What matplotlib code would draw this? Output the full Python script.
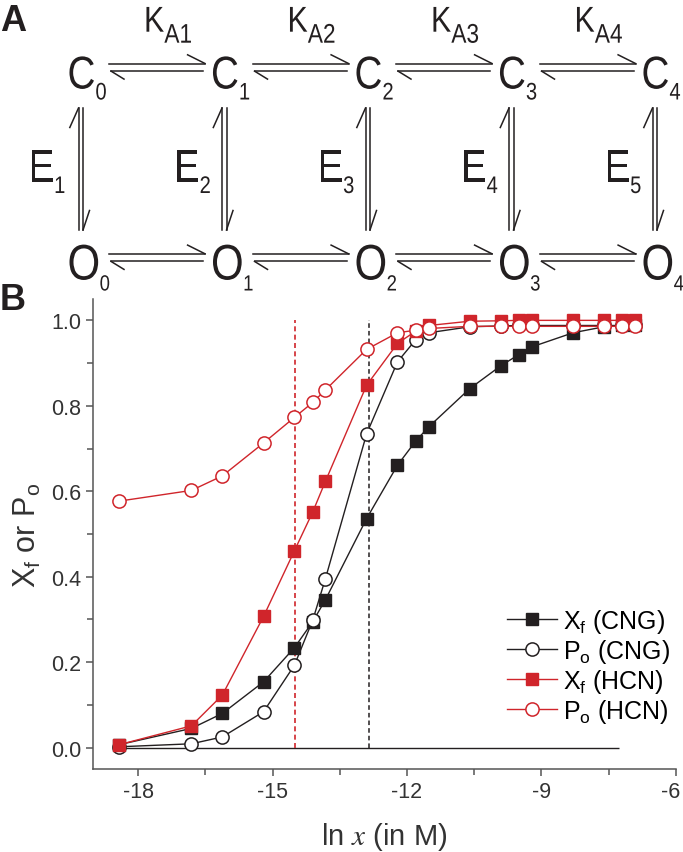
import numpy as np
import matplotlib
matplotlib.use("Agg")
import matplotlib.pyplot as plt
from matplotlib.lines import Line2D
from matplotlib.textpath import TextPath
from matplotlib.patches import PathPatch
from matplotlib.font_manager import FontProperties
from matplotlib.transforms import Affine2D, IdentityTransform, ScaledTranslation

plt.rcParams['font.family'] = ['Liberation Sans', 'DejaVu Sans']
plt.rcParams['mathtext.fontset'] = 'stix'
plt.rcParams['axes.unicode_minus'] = False

# ln of ligand concentration (M)
ln_x = [-18.42, -16.81, -16.12, -15.20, -14.51, -14.10, -13.82, -12.90, -12.21, -11.80,
        -11.51, -10.60, -9.90, -9.50, -9.21, -8.29, -7.60, -7.20, -6.91]

xf_cng = [0.007, 0.045, 0.080, 0.154, 0.234, 0.295, 0.346, 0.536, 0.661, 0.718,
          0.751, 0.840, 0.894, 0.920, 0.938, 0.971, 0.985, 0.988, 0.990]
po_cng = [0.002, 0.009, 0.025, 0.084, 0.193, 0.299, 0.395, 0.734, 0.903, 0.955,
          0.971, 0.985, 0.987, 0.988, 0.988, 0.988, 0.988, 0.988, 0.988]
xf_hcn = [0.007, 0.051, 0.123, 0.307, 0.461, 0.552, 0.623, 0.848, 0.946, 0.975,
          0.988, 0.998, 0.999, 1.000, 1.000, 1.000, 1.000, 1.000, 1.000]
po_hcn = [0.577, 0.602, 0.636, 0.713, 0.773, 0.808, 0.837, 0.932, 0.971, 0.977,
          0.981, 0.986, 0.986, 0.986, 0.986, 0.986, 0.986, 0.986, 0.986]

half_cng = -12.84   # black dashed line
half_hcn = -14.50   # red dashed line
base_x = (-18.42, -7.27)

BLACK = '#231f20'
RED = '#d0252b'

W, H = 683, 853
fig = plt.figure(figsize=(W / 100, H / 100), dpi=100)
FP = FontProperties(family='Liberation Sans')


def line(xs, ys, lw=1.1):
    fx = [x / W for x in xs]
    fy = [1 - y / H for y in ys]
    fig.add_artist(Line2D(fx, fy, color=BLACK, lw=lw, transform=fig.transFigure))


def glyphs(x, y, s, size, sx=0.84):
    # condensed-looking text drawn as a path; x, y = left/baseline in pixels from top-left
    tp = TextPath((0, 0), s, size=size, prop=FP)
    tr = Affine2D().scale(sx, 1).translate(x, H - y)
    fig.add_artist(PathPatch(tr.transform_path(tp), fc=BLACK, ec='none',
                             transform=IdentityTransform()))
    return tp.get_extents().x1 * sx


def label(x, y, main, sub, size, ssize, dy, gap=1.5):
    w = glyphs(x, y, main, size)
    glyphs(x + w + gap, y + dy, sub, ssize)


# ---- panel A: kinetic scheme ----
fig.text(0 / W, 1 - 31 / H, 'A', fontsize=26, fontweight='bold', color=BLACK, va='baseline')
fig.text(0 / W, 1 - 310 / H, 'B', fontsize=26, fontweight='bold', color=BLACK, va='baseline')

step = 143.5
for k in range(5):
    x0 = 67.5 + step * k
    label(x0, 89.5, 'C', str(k), 46, 24, 11)
    label(x0, 280.5, 'O', str(k), 50, 22, 11)
    label(28.5 + step * k + (2 if k else 0), 183, 'E', str(k + 1), 46, 24, 11)
    # vertical harpoons
    xl, xr = 78.5 + step * k, 83 + step * k
    line([xl, xl], [109, 231])
    line([xl, xl - 8.7], [109, 128.5])
    line([xr, xr], [109, 231])
    line([xr, xr + 6.5], [231, 211.5])

for k in range(4):
    xl, xr = 109 + step * k, 205 + step * k
    for yt in (64.5, 254.8):
        yb = yt + 7.6
        line([xl, xr], [yt, yt])
        line([xr, xr - 17.4], [yt, yt - 8.7])
        line([xl + 2, xr - 2], [yb, yb])
        line([xl + 2, xl + 15], [yb, yb + 8])
    label(144 + step * k, 32.7, 'K', 'A%d' % (k + 1), 36, 27, 11, gap=0.5)

# ---- panel B ----
ax = fig.add_axes([93.3 / W, 83 / H, (675.7 - 93.3) / W, 470 / H])

ax.hlines(0, *base_x, color=BLACK, lw=1.0, zorder=1)
ax.vlines(half_hcn, 0, 1.0, color=RED, lw=1.2, linestyles=(0, (3, 2)), zorder=1)
ax.vlines(half_cng, 0, 1.0, color=BLACK, lw=1.1, linestyles=(0, (3, 2)), zorder=1)

ax.plot(ln_x, xf_cng, '-s', color=BLACK, mfc=BLACK, mec=BLACK, ms=8.5, lw=1.0,
        label=r'$\mathregular{X_f}$ (CNG)', zorder=3)
ax.plot(ln_x, po_cng, '-o', color=BLACK, mfc='white', mec=BLACK, ms=9.5, mew=1.1, lw=1.0,
        label=r'$\mathregular{P_o}$ (CNG)', zorder=4)
ax.plot(ln_x, xf_hcn, '-s', color=RED, mfc=RED, mec=RED, ms=8.5, lw=1.0,
        label=r'$\mathregular{X_f}$ (HCN)', zorder=5)
ax.plot(ln_x, po_hcn, '-o', color=RED, mfc='white', mec=RED, ms=9.5, mew=1.1, lw=1.0,
        label=r'$\mathregular{P_o}$ (HCN)', zorder=6)

ax.set_xlim(-19, -6)
ax.set_ylim(-0.05, 1.05)
ax.set_xticks([-18, -15, -12, -9, -6])
ax.set_xticks(np.arange(-16.5, -6, 3), minor=True)
ax.set_yticks(np.arange(0, 1.01, 0.2))
ax.set_yticks(np.arange(0.1, 1.0, 0.2), minor=True)
ax.set_yticklabels(['%.1f' % v for v in np.arange(0, 1.01, 0.2)])

for s in ('top', 'right'):
    ax.spines[s].set_visible(False)
for s in ('left', 'bottom'):
    ax.spines[s].set_color('#555555')
    ax.spines[s].set_linewidth(1.1)
ax.tick_params(which='both', direction='out', colors='#555555', labelcolor='#333333',
               labelsize=15.5, width=1.1)
ax.tick_params(which='major', length=5)
ax.tick_params(which='minor', length=4)

# keep the last x tick label inside the picture
last = ax.get_xticklabels()[-1]
last.set_transform(last.get_transform() + ScaledTranslation(-5 / 100, 0, fig.dpi_scale_trans))

ax.set_xlabel(r'ln $x$ (in M)', fontsize=21, color='#333333', labelpad=13)
ax.set_ylabel(r'$\mathregular{X_f}$ or $\mathregular{P_o}$', fontsize=22,
              color='#333333', labelpad=6)

ax.legend(loc='lower right', bbox_to_anchor=(1.02, 0.056), frameon=False, fontsize=18,
          handlelength=2.0, handletextpad=0.25, labelspacing=0.08, borderpad=0.2)

fig.savefig('out.png', dpi=100)
